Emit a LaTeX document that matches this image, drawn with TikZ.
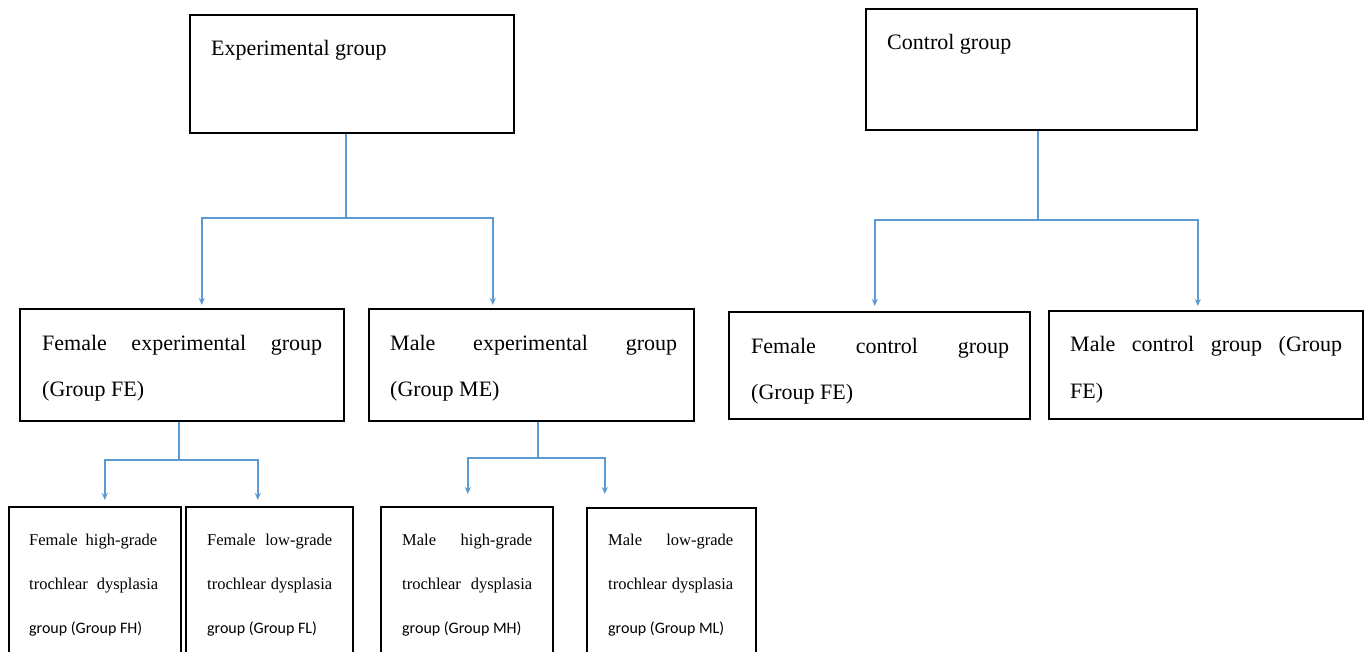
\documentclass[tikz,border=0pt]{standalone}
\usepackage{fontspec}
\setmainfont{Liberation Serif}
\newfontfamily\carl{Carlito}
\usetikzlibrary{arrows.meta,calc}
\definecolor{lineblue}{RGB}{91,155,213}
\begin{document}
\begin{tikzpicture}[x=1pt,y=-1pt,
  box/.style={draw=black, line width=1.6pt, rectangle, anchor=north west, inner sep=0pt, fill=white},
  big/.style={anchor=base west, inner sep=0pt, font=\fontsize{22}{26}\selectfont},
  small/.style={anchor=base west, inner sep=0pt, font=\fontsize{16.5}{20}\selectfont},
  smallsans/.style={anchor=base west, inner sep=0pt, font=\carl\fontsize{16}{20}\selectfont},
  conn/.style={draw=lineblue, line width=1.6pt},
  arr/.style={conn, -{Stealth[length=7pt,width=6pt]}}]
\useasboundingbox (0,0) rectangle (1368,652);
\clip (0,0) rectangle (1368,652);
\fill[white] (0,0) rectangle (1368,652);

% top boxes
\node[box, minimum width=324pt, minimum height=118pt] (exp) at (189,14) {};
\node[box, minimum width=331pt, minimum height=121pt] (ctl) at (865,8) {};
\node[big] (expT) at (211,56) {Experimental group};
\node[big] (ctlT) at (887,50) {Control group};

% middle boxes
\node[box, minimum width=324pt, minimum height=112pt] (fe) at (19,308) {};
\node[box, minimum width=325pt, minimum height=112pt] (me) at (368,308) {};
\node[box, minimum width=301pt, minimum height=107pt] (fc) at (728,311) {};
\node[box, minimum width=314pt, minimum height=108pt] (mc) at (1048,310) {};

\node[big] (feT1) at (42,350) {\makebox[280pt][s]{Female experimental group}};
\node[big] (feT2) at (42,396) {(Group FE)};
\node[big] (meT1) at (390,350) {\makebox[287pt][s]{Male experimental group}};
\node[big] (meT2) at (390,396) {(Group ME)};
\node[big] (fcT1) at (751,353) {\makebox[258pt][s]{Female control group}};
\node[big] (fcT2) at (751,399) {(Group FE)};
\node[big] (mcT1) at (1070,352) {\makebox[272pt][s]{Male control group (Group}};
\node[big] (mcT2) at (1070,398) {FE)};

% bottom boxes
\node[box, minimum width=172pt, minimum height=170pt] (fh) at (8,506) {};
\node[box, minimum width=167pt, minimum height=170pt] (fl) at (185,506) {};
\node[box, minimum width=172pt, minimum height=170pt] (mh) at (380,506) {};
\node[box, minimum width=169pt, minimum height=170pt] (ml) at (586,507) {};

\node[small] (fhT1) at (29,545) {\makebox[128pt][s]{Female high-grade}};
\node[small] (fhT2) at (29,589) {\makebox[129pt][s]{trochlear dysplasia}};
\node[smallsans] (fhT3) at (29,633) {group (Group FH)};
\node[small] (flT1) at (207,545) {\makebox[125pt][s]{Female low-grade}};
\node[small] (flT2) at (207,589) {\makebox[125pt][s]{trochlear dysplasia}};
\node[smallsans] (flT3) at (207,633) {group (Group FL)};
\node[small] (mhT1) at (402,545) {\makebox[130pt][s]{Male high-grade}};
\node[small] (mhT2) at (402,589) {\makebox[130pt][s]{trochlear dysplasia}};
\node[smallsans] (mhT3) at (402,633) {group (Group MH)};
\node[small] (mlT1) at (608,545) {\makebox[125pt][s]{Male low-grade}};
\node[small] (mlT2) at (608,589) {\makebox[125pt][s]{trochlear dysplasia}};
\node[smallsans] (mlT3) at (608,633) {group (Group ML)};

% connectors
\coordinate (j1) at (346,218);
\coordinate (j2) at (1038,220);
\coordinate (j3) at (179,460);
\coordinate (j4) at (538,458);

\draw[conn] (j1 |- exp.south) -- (j1);
\draw[arr] (j1) -| ([xshift=20pt,yshift=3pt]fe.north);
\draw[arr] (j1) -| ([xshift=-38.5pt,yshift=3pt]me.north);

\draw[conn] (j2 |- ctl.south) -- (j2);
\draw[arr] (j2) -| ([xshift=-4.5pt,yshift=5pt]fc.north);
\draw[arr] (j2) -| ([xshift=-8pt,yshift=4pt]mc.north);

\draw[conn] (j3 |- fe.south) -- (j3);
\draw[arr] (j3) -| ([xshift=10pt,yshift=6pt]fh.north);
\draw[arr] (j3) -| ([xshift=-11.5pt,yshift=6pt]fl.north);

\draw[conn] (j4 |- me.south) -- (j4);
\draw[arr] (j4) -| ([xshift=1pt,yshift=12pt]mh.north);
\draw[arr] (j4) -| ([xshift=-66.5pt,yshift=13pt]ml.north);
\end{tikzpicture}
\end{document}
